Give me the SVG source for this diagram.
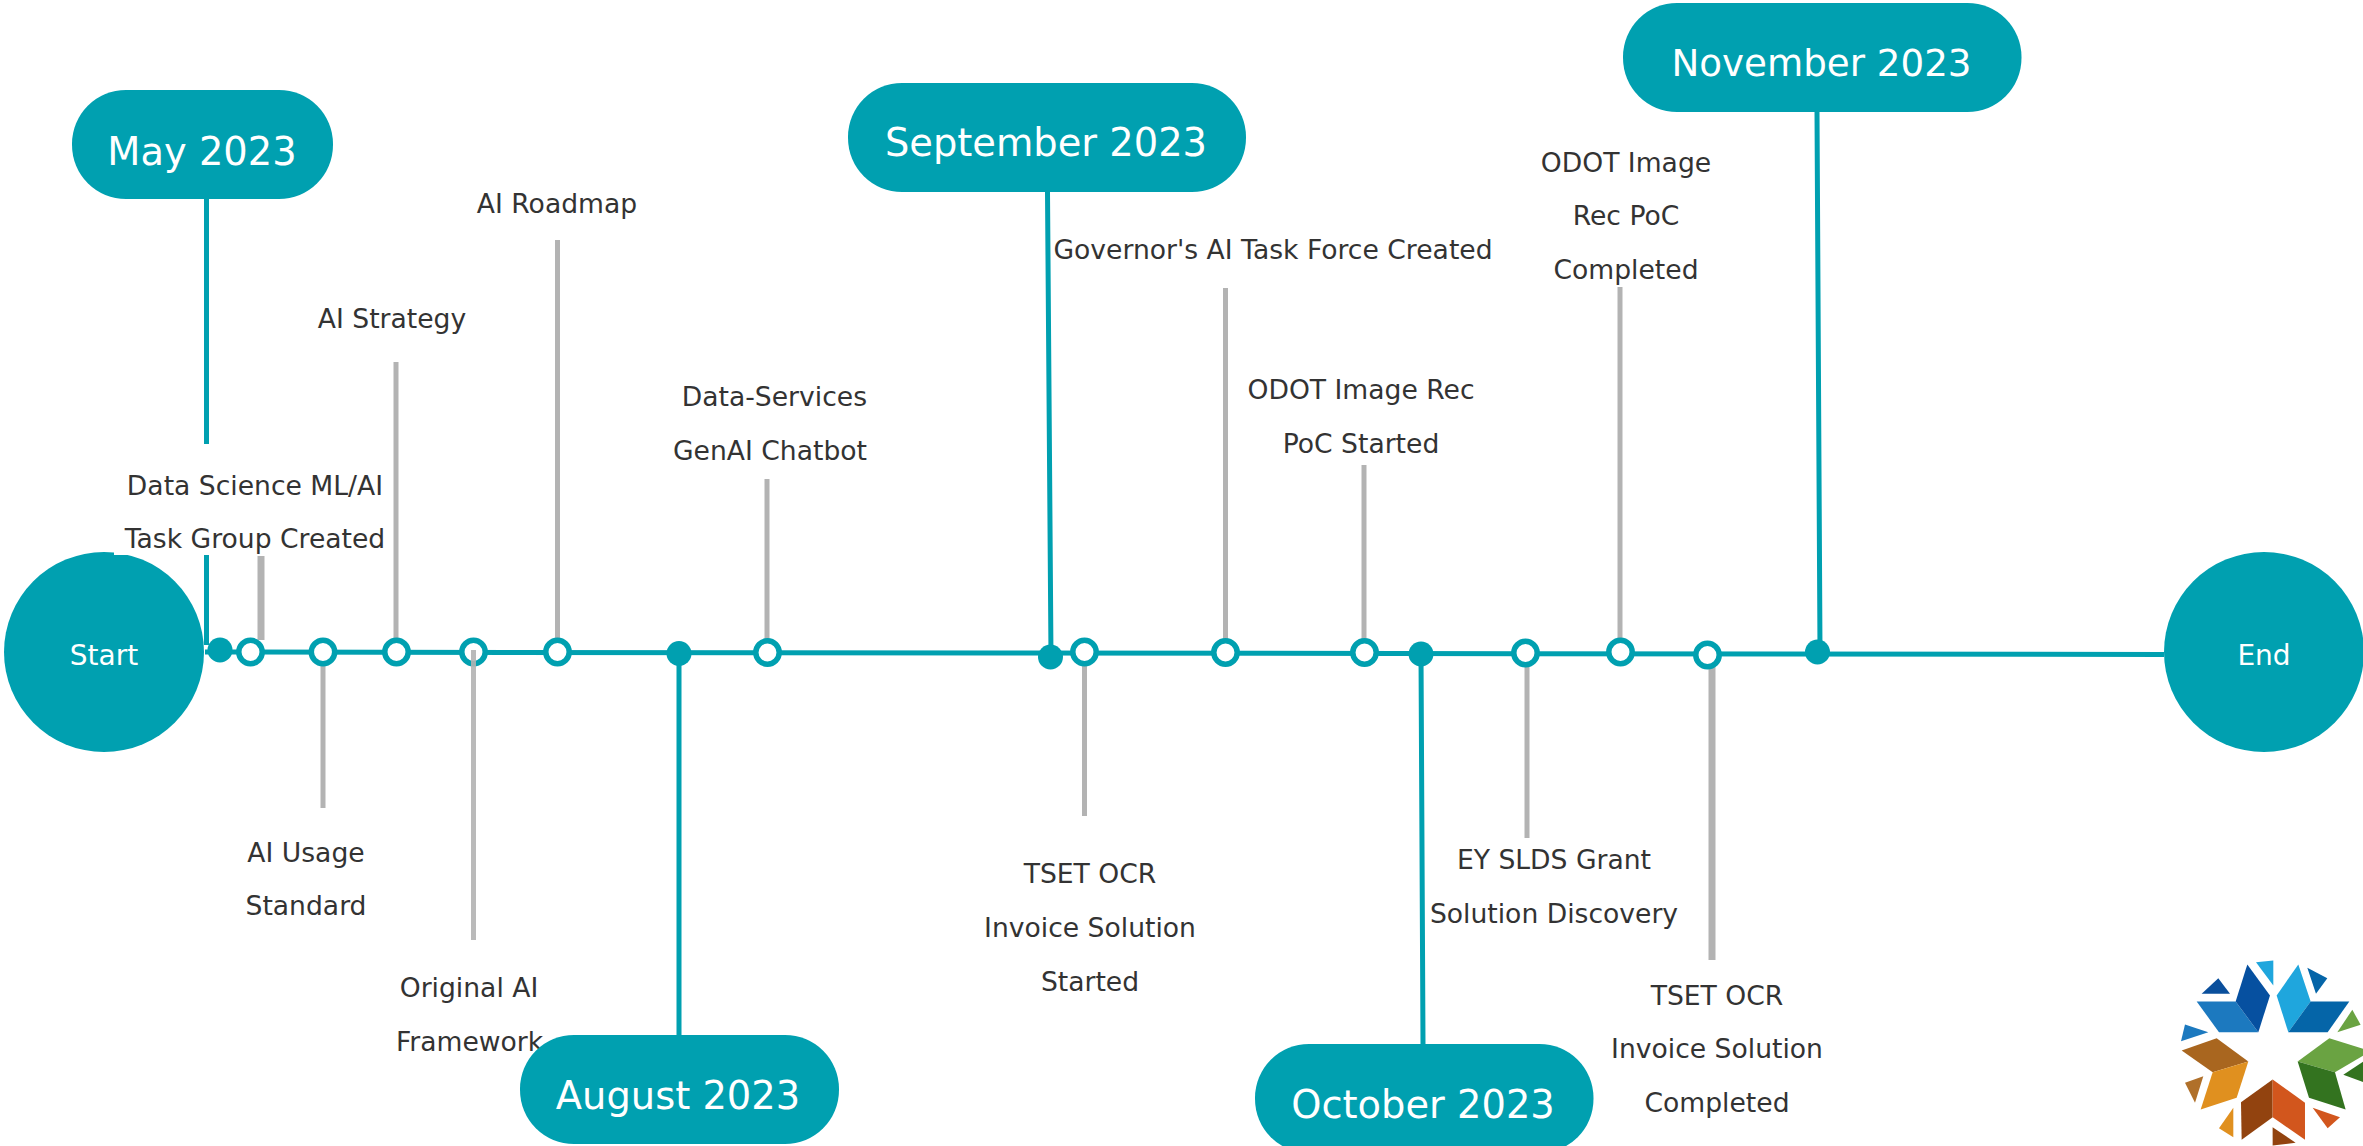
<svg xmlns="http://www.w3.org/2000/svg" width="2363" height="1146" viewBox="0 0 2363 1146">
<style>
text{font-family:"DejaVu Sans",sans-serif;text-anchor:middle}
.l{font-size:26.6px;fill:#333}
.p{font-size:38.4px;fill:#fff}
.c{font-size:28px;fill:#fff}
.t{fill:#00a0b0}
.o{fill:#fff;stroke:#00a0b0;stroke-width:5.500}
.g{stroke:#b3b3b3;stroke-width:5;fill:none}
.m{stroke:#00a0b0;stroke-width:5;fill:none}
</style>
<rect width="2363" height="1146" fill="#fff"/>
<g id="connectors">
<path class="m" d="M205 652L1000 653L2164 654.500"/>
<path class="m" d="M206.500 199V444M206.500 555V645M1047.500 192L1051 657M1817 112L1820 650M679 655V1035M1421 654L1423 1044"/>
<path class="g" d="M396 362V640M557.500 240V640M767 479V640M1225.500 288V640M1364 465V640M1620 287V640M323 665V808M1084.500 665V816M1527 665V838"/>
<path class="g" style="stroke-width:7" d="M261 556V640M1712 665V960"/>
</g>
<g id="start"><circle class="t" cx="104" cy="652" r="100"/><rect x="114" y="445" width="40" height="110" fill="#fff"/><text class="c" x="104" y="665">Start</text></g>
<g id="end"><circle class="t" cx="2264" cy="652" r="100"/><text class="c" x="2264" y="665">End</text></g>
<g id="dots">
<circle class="t" cx="220" cy="650" r="12.500"/><circle class="t" cx="679" cy="653.500" r="12.500"/><circle class="t" cx="1050.500" cy="657" r="12.500"/><circle class="t" cx="1421" cy="654" r="12.500"/><circle class="t" cx="1817.500" cy="652" r="12.500"/>
<circle class="o" cx="250.500" cy="652" r="11.700"/><circle class="o" cx="323" cy="652" r="11.700"/><circle class="o" cx="396.500" cy="652" r="11.700"/><circle class="o" cx="473.500" cy="652" r="11.700"/><circle class="o" cx="557.500" cy="652" r="11.700"/><circle class="o" cx="767.500" cy="652.500" r="11.700"/><circle class="o" cx="1084.500" cy="652" r="11.700"/><circle class="o" cx="1225.500" cy="652.500" r="11.700"/><circle class="o" cx="1364.500" cy="652.500" r="11.700"/><circle class="o" cx="1525.500" cy="653" r="11.700"/><circle class="o" cx="1620.500" cy="652" r="11.700"/><circle class="o" cx="1707.500" cy="655" r="11.700"/>
<path stroke="#b3b3b3" stroke-width="5" stroke-opacity=".9" d="M473.500 650V940"/>
</g>
<g id="labels">
<text class="l" x="255" y="495">Data Science ML/AI</text><text class="l" x="255" y="548">Task Group Created</text>
<text class="l" x="392" y="328">AI Strategy</text>
<text class="l" x="557" y="213">AI Roadmap</text>
<text class="l" style="text-anchor:end" x="867" y="406">Data-Services</text><text class="l" style="text-anchor:end" x="867" y="460">GenAI Chatbot</text>
<text class="l" x="1273" y="259">Governor's AI Task Force Created</text>
<text class="l" x="1361" y="399">ODOT Image Rec</text><text class="l" x="1361" y="453">PoC Started</text>
<text class="l" x="1626" y="172">ODOT Image</text><text class="l" x="1626" y="225">Rec PoC</text><text class="l" x="1626" y="279">Completed</text>
<text class="l" x="306" y="862">AI Usage</text><text class="l" x="306" y="915">Standard</text>
<text class="l" x="469" y="997">Original AI</text><text class="l" x="469.500" y="1051">Framework</text>
<text class="l" x="1090" y="883">TSET OCR</text><text class="l" x="1090" y="937">Invoice Solution</text><text class="l" x="1090" y="991">Started</text>
<text class="l" x="1554" y="869">EY SLDS Grant</text><text class="l" x="1554" y="923">Solution Discovery</text>
<text class="l" x="1717" y="1005">TSET OCR</text><text class="l" x="1717" y="1058">Invoice Solution</text><text class="l" x="1717" y="1112">Completed</text>
</g>
<g id="may"><rect class="t" x="72" y="90" width="261" height="109" rx="54"/><text class="p" x="202" y="165">May 2023</text></g>
<g id="sep"><rect class="t" x="848" y="83" width="398" height="109" rx="54"/><text class="p" x="1046" y="156">September 2023</text></g>
<g id="nov"><rect class="t" x="1623" y="3" width="398.500" height="109" rx="54"/><text class="p" style="font-size:37.200px" x="1821.500" y="76">November 2023</text></g>
<g id="aug"><rect class="t" x="520" y="1035" width="319" height="109" rx="54"/><text class="p" x="678" y="1109">August 2023</text></g>
<g id="oct"><rect class="t" x="1255" y="1044" width="338.500" height="109" rx="54"/><text class="p" x="1423" y="1118">October 2023</text></g>
<g id="logo" transform="translate(2150 940.500) scale(.3333)">
<polygon fill="#0a4f9c" points="155,160 205,113 240,160"/>
<polygon fill="#1c79bf" points="140,183 257,183 325,275 207,275"/>
<polygon fill="#0650a0" points="292,72 360,165 325,275 257,183"/>
<polygon fill="#1fa6dd" points="318,65 370,60 370,135"/>
<polygon fill="#1fa6dd" points="445,72 482,183 415,275 380,165"/>
<polygon fill="#0565a8" points="482,183 598,183 533,275 415,275"/>
<polygon fill="#0565a8" points="472,82 532,113 498,160"/>
<polygon fill="#6aa342" points="607,208 632,253 562,275"/>
<polygon fill="#1c79bf" points="105,252 175,275 93,302"/>
<polygon fill="#a9661f" points="95,330 200,293 295,363 188,395"/>
<polygon fill="#e0901f" points="295,363 188,395 152,507 260,472"/>
<polygon fill="#b0702a" points="105,427 160,407 135,487"/>
<polygon fill="#e0901f" points="250,502 250,590 207,563"/>
<polygon fill="#92430f" points="368,417 368,530 275,598 273,485"/>
<polygon fill="#d2561d" points="368,417 465,487 465,598 368,530"/>
<polygon fill="#92430f" points="368,560 437,607 368,615"/>
<polygon fill="#d2561d" points="488,502 570,530 533,563"/>
<polygon fill="#6aa342" points="443,363 538,293 640,325 640,345 555,395"/>
<polygon fill="#33731f" points="443,363 555,395 587,507 477,472"/>
<polygon fill="#33731f" points="640,363 640,425 580,403"/>
</g>
</svg>
